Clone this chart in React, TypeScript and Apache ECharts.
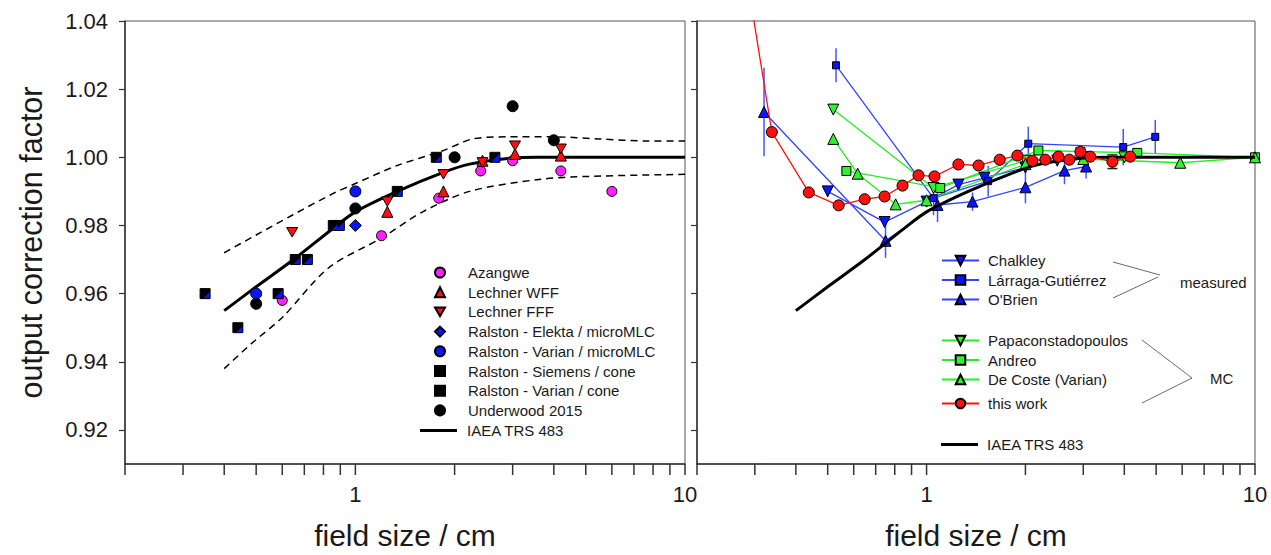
import React, { useEffect, useRef } from 'react';
import * as echarts from 'echarts';

// ---------- axes ----------
const yMin = 0.91;
const yMax = 1.04;
const yTicks = [0.92, 0.94, 0.96, 0.98, 1.0, 1.02, 1.04];
const xMin = 0.2;
const xMax = 10;
const xTicks = [0.2, 0.3, 0.4, 0.5, 0.6, 0.7, 0.8, 0.9, 1, 2, 3, 4, 5, 6, 7, 8, 9, 10];
const xLabels = [1, 10];

// ---------- left panel ----------
const azangwe = [[0.6, 0.958], [1.2, 0.977], [1.79, 0.988], [2.4, 0.996], [3.0, 0.999], [4.2, 0.996], [6.0, 0.990]];
const lechnerWFF = [[1.25, 0.984], [1.85, 0.990], [2.43, 0.999], [3.05, 1.001], [4.2, 1.0005]];
const lechnerFFF = [[0.643, 0.978], [1.25, 0.987], [1.85, 0.995], [2.43, 0.9985], [3.05, 1.0034], [4.2, 1.0025]];
const ralstonElekta = [[1.0, 0.980]];
const ralstonVarianMLC = [[0.5, 0.960], [1.0, 0.990]];
const ralstonSiemensCone = [[0.35, 0.960], [0.44, 0.950], [0.657, 0.970], [0.857, 0.980], [1.34, 0.990], [1.76, 1.000]];
const ralstonVarianCone = [[0.583, 0.960], [0.715, 0.970], [0.894, 0.980], [2.65, 1.000]];
const underwood = [[0.5, 0.957], [1.0, 0.985], [2.0, 1.000], [3.0, 1.015], [4.0, 1.005]];
const iaea = [[0.4, 0.955], [0.5, 0.962], [0.643, 0.9697], [0.857, 0.9792], [1.0, 0.984], [1.34, 0.990], [1.84, 0.9955], [2.22, 0.998], [3.0, 0.9998], [3.55, 1.0], [10, 1.0]];
const upperBound = [[0.4, 0.972], [0.5, 0.9772], [0.643, 0.983], [0.857, 0.9894], [1.0, 0.9923], [1.34, 0.9976], [1.84, 1.0019], [2.27, 1.0054], [2.88, 1.006], [4.0, 1.006], [5.5, 1.0054], [7.66, 1.0048], [10, 1.0048]];
const lowerBound = [[0.4, 0.938], [0.49, 0.9458], [0.6, 0.953], [0.83, 0.9676], [1.2, 0.9763], [1.6, 0.984], [2.22, 0.990], [3.6, 0.9935], [5.1, 0.9944], [10, 0.995]];

// ---------- right panel ----------
const chalkley = [[0.5, 0.990], [0.745, 0.981], [1.0, 0.987], [1.25, 0.992], [1.5, 0.994], [2.0, 0.997], [2.5, 0.999], [3.0, 1.000]];
const larraga = [[0.53, 1.027], [1.05, 0.988], [1.54, 0.993], [2.04, 1.004], [3.97, 1.003], [4.97, 1.006]];
const larragaErr = [0.005, 0.005, 0.0045, 0.005, 0.0053, 0.005];
const obrien = [[0.32, 1.0133], [0.75, 0.9755], [1.08, 0.986], [1.38, 0.987], [2.0, 0.9912], [2.63, 0.9961], [3.06, 0.9973]];
const obrienErr = [0.013, 0.005, 0.005, 0.0027, 0.0047, 0.004, 0.0035];
const papa = [[0.52, 1.014], [1.05, 0.991], [2.0, 0.999], [3.0, 1.0], [4.0, 1.0]];
const andreo = [[0.57, 0.996], [1.1, 0.991], [2.19, 1.002], [4.38, 1.0013], [10, 1.0]];
const decoste = [[0.52, 1.0054], [0.617, 0.9952], [0.805, 0.9862], [1.0, 0.9874], [2.0, 0.998], [3.0, 0.9995], [5.92, 0.9984], [10, 1.0]];
const thisWork = [[0.288, 1.049], [0.338, 1.0074], [0.438, 0.9897], [0.54, 0.9859], [0.648, 0.9877], [0.745, 0.9885], [0.845, 0.9917], [0.945, 0.9947], [1.057, 0.9944], [1.25, 0.9979], [1.44, 0.9976], [1.67, 0.9993], [1.89, 1.0005], [2.1, 0.999], [2.3, 0.9993], [2.52, 1.0002], [2.72, 0.9993], [2.94, 1.0016], [3.15, 1.0002], [3.68, 0.9987], [4.17, 1.0002]];
const thisWorkErr = [0, 0, 0, 0, 0, 0, 0, 0, 0, 0, 0, 0, 0, 0, 0, 0, 0, 0.0012, 0, 0.002, 0];

const FONT = '"Liberation Sans", Arial, sans-serif';
const BLUE = '#0a14ff';
const BLUE_LINE = '#3344ff';
const GREEN = '#33ee33';
const GREEN_LINE = '#22ee22';
const RED = '#ff1010';
const DOWN_TRI = 'path://M0,0 L20,0 L10,17.3 Z';
const HALF_TRI = 'path://M10,0 L10,10 L0,10 Z';
const BAR_ICON = 'path://M0,0 L120,0 L120,10 L0,10 Z';

const errData = (pts: number[][], errs: number[]) =>
  pts.map((p, i) => [p[0], p[1] - errs[i], p[1] + errs[i]]).filter((_, i) => errs[i] > 0);

function App() {
  const ref = useRef<HTMLDivElement>(null);
  useEffect(() => {
    if (!ref.current) return;
    const chart = echarts.init(ref.current, null, { renderer: 'svg' });

    const mk = (color: string, border = '#000', bw = 1) => ({ color, borderColor: border, borderWidth: bw, opacity: 1 });

    const xAxisBase = (gridIndex: number) => ({
      type: 'log',
      gridIndex,
      min: xMin,
      max: xMax,
      logBase: 10,
      name: 'field size / cm',
      nameLocation: 'middle',
      nameGap: 56,
      nameTextStyle: { fontSize: 30, color: '#1a1a1a', fontFamily: FONT },
      axisLine: { show: true, lineStyle: { color: '#333', width: 1.5 } },
      axisTick: { show: false },
      splitLine: { show: false },
      minorTick: { show: false },
      axisLabel: {
        fontSize: 22,
        color: '#1a1a1a',
        fontFamily: FONT,
        margin: 19,
        showMinLabel: true,
        showMaxLabel: true,
        customValues: xLabels,
        formatter: (v: number) => {
          const r = Math.round(v);
          return Math.abs(v - r) < 1e-6 && xLabels.indexOf(r) >= 0 ? String(r) : '';
        },
      },
    });

    const yAxisBase = (gridIndex: number, labels: boolean) => ({
      type: 'value',
      gridIndex,
      min: yMin,
      max: yMax,
      name: labels ? 'output correction factor' : '',
      nameLocation: 'middle',
      nameGap: 79,
      nameTextStyle: { fontSize: 30.5, color: '#1a1a1a', fontFamily: FONT },
      axisLine: { show: true, lineStyle: { color: '#333', width: 1.5 } },
      axisTick: { show: true, inside: false, length: 6, customValues: yTicks, lineStyle: { color: '#333', width: 1.2 } },
      splitLine: { show: false },
      axisLabel: {
        show: labels,
        customValues: yTicks,
        fontSize: 22,
        color: '#1a1a1a',
        fontFamily: FONT,
        margin: 17,
        formatter: (v: number) => v.toFixed(2),
      },
    });

    const tickSeries = (idx: number) => ({
      type: 'custom',
      name: '_ticks' + idx,
      xAxisIndex: idx,
      yAxisIndex: idx,
      silent: true,
      clip: false,
      z: 1,
      data: xTicks.map((v) => [v, yMin]),
      renderItem: (_p: any, api: any) => {
        const p = api.coord([api.value(0), api.value(1)]);
        return {
          type: 'line',
          shape: { x1: p[0], y1: p[1], x2: p[0], y2: p[1] + 11 },
          style: { stroke: '#333', lineWidth: 1.5 },
        };
      },
    });

    const errSeries = (name: string, data: number[][], color: string, caps: boolean, z = 2) => ({
      type: 'custom',
      name,
      xAxisIndex: 1,
      yAxisIndex: 1,
      silent: true,
      z,
      encode: { x: 0, y: [1, 2] },
      data,
      renderItem: (_p: any, api: any) => {
        const x = api.value(0);
        const lo = api.coord([x, api.value(1)]);
        const hi = api.coord([x, api.value(2)]);
        const children: any[] = [
          { type: 'line', shape: { x1: lo[0], y1: lo[1], x2: hi[0], y2: hi[1] }, style: { stroke: color, lineWidth: 1.5 } },
        ];
        if (caps) {
          children.push({ type: 'line', shape: { x1: lo[0] - 5, y1: lo[1], x2: lo[0] + 5, y2: lo[1] }, style: { stroke: '#222', lineWidth: 1.5 } });
          children.push({ type: 'line', shape: { x1: hi[0] - 5, y1: hi[1], x2: hi[0] + 5, y2: hi[1] }, style: { stroke: '#222', lineWidth: 1.5 } });
        }
        return { type: 'group', children };
      },
    });

    const scatter = (name: string, data: number[][], symbol: string, size: number, style: any, z = 5, extra: any = {}) => ({
      type: 'scatter',
      name,
      xAxisIndex: 0,
      yAxisIndex: 0,
      data,
      symbol,
      symbolSize: size,
      symbolKeepAspect: true,
      itemStyle: { opacity: 1, ...style },
      z,
      ...extra,
    });

    const curve = (name: string, data: number[][], idx: number, width: number, type: any, z = 3) => ({
      type: 'line',
      name,
      xAxisIndex: idx,
      yAxisIndex: idx,
      data,
      smooth: 0.3,
      showSymbol: false,
      symbol: 'none',
      lineStyle: { color: '#000', width, type },
      itemStyle: { color: '#000' },
      z,
    });

    const lineSeries = (name: string, data: number[][], symbol: string, size: number, lineColor: string, fill: string, z = 4) => ({
      type: 'line',
      name,
      xAxisIndex: 1,
      yAxisIndex: 1,
      data,
      symbol,
      symbolSize: size,
      showSymbol: true,
      clip: true,
      lineStyle: { color: lineColor, width: 1.3 },
      itemStyle: { color: fill, borderColor: '#000', borderWidth: 1, opacity: 1 },
      z,
    });

    const legendText = (pad: number) => ({ fontSize: 15, color: '#1a1a1a', fontFamily: FONT, padding: [0, 0, 0, pad], lineHeight: 15 });
    const iaeaItem = { name: 'IAEA TRS 483', icon: BAR_ICON };

    const option: any = {
      animation: false,
      backgroundColor: '#fff',
      grid: [
        { left: 125, top: 21, width: 560, height: 447, show: true, borderColor: '#555', borderWidth: 1, backgroundColor: 'transparent' },
        { left: 697, top: 21, width: 558, height: 447, show: true, borderColor: '#555', borderWidth: 1, backgroundColor: 'transparent' },
      ],
      xAxis: [xAxisBase(0), xAxisBase(1)],
      yAxis: [yAxisBase(0, true), yAxisBase(1, false)],
      legend: [
        {
          orient: 'vertical', left: 434, top: 265, padding: 0, itemWidth: 10, itemHeight: 10, itemGap: 4.7,
          selectedMode: false, symbolKeepAspect: true, textStyle: legendText(18),
          data: ['Azangwe', 'Lechner WFF', 'Lechner FFF', 'Ralston - Elekta / microMLC', 'Ralston - Varian / microMLC', 'Ralston - Siemens / cone', 'Ralston - Varian / cone', 'Underwood 2015'],
        },
        {
          orient: 'vertical', left: 420, top: 423, padding: 0, itemWidth: 37, itemHeight: 12, itemGap: 4.7,
          selectedMode: false, symbolKeepAspect: true, textStyle: legendText(5),
          data: [iaeaItem],
        },
        {
          orient: 'vertical', left: 941, top: 253, padding: 0, itemWidth: 37, itemHeight: 12, itemGap: 4.5,
          selectedMode: false, textStyle: legendText(4),
          data: ['Chalkley', 'Lárraga-Gutiérrez', "O'Brien"],
        },
        {
          orient: 'vertical', left: 941, top: 333, padding: 0, itemWidth: 37, itemHeight: 12, itemGap: 4.5,
          selectedMode: false, textStyle: legendText(4),
          data: ['Papaconstadopoulos', 'Andreo', 'De Coste (Varian)'],
        },
        {
          orient: 'vertical', left: 941, top: 396, padding: 0, itemWidth: 37, itemHeight: 12, itemGap: 4.5,
          selectedMode: false, textStyle: legendText(4),
          data: ['this work'],
        },
        {
          orient: 'vertical', left: 941, top: 437, padding: 0, itemWidth: 37, itemHeight: 12, itemGap: 4.5,
          selectedMode: false, symbolKeepAspect: true, textStyle: legendText(4),
          data: [iaeaItem],
        },
      ],
      graphic: [
        { type: 'line', shape: { x1: 1113, y1: 262, x2: 1160, y2: 275 }, style: { stroke: '#444', lineWidth: 0.8 } },
        { type: 'line', shape: { x1: 1113, y1: 298, x2: 1158, y2: 277 }, style: { stroke: '#444', lineWidth: 0.8 } },
        { type: 'text', x: 1180, y: 282, style: { text: 'measured', fontSize: 15, fill: '#1a1a1a', fontFamily: FONT, textVerticalAlign: 'middle' } },
        { type: 'line', shape: { x1: 1142, y1: 340, x2: 1192, y2: 378 }, style: { stroke: '#444', lineWidth: 0.8 } },
        { type: 'line', shape: { x1: 1142, y1: 403, x2: 1192, y2: 378 }, style: { stroke: '#444', lineWidth: 0.8 } },
        { type: 'text', x: 1210, y: 378, style: { text: 'MC', fontSize: 15, fill: '#1a1a1a', fontFamily: FONT, textVerticalAlign: 'middle' } },
      ],
      series: [
        tickSeries(0),
        tickSeries(1),
        // left panel
        curve('upper', upperBound, 0, 1.5, [7, 5]),
        curve('lower', lowerBound, 0, 1.5, [7, 5]),
        curve('IAEA TRS 483', iaea, 0, 3, 'solid'),
        scatter('Azangwe', azangwe, 'circle', 10, mk('#ff22ff')),
        scatter('Lechner WFF', lechnerWFF, 'triangle', 11, mk(RED)),
        scatter('Lechner FFF', lechnerFFF, DOWN_TRI, 11, mk(RED)),
        scatter('Ralston - Elekta / microMLC', ralstonElekta, 'diamond', 12, mk(BLUE)),
        scatter('Ralston - Varian / microMLC', ralstonVarianMLC, 'circle', 11, mk(BLUE)),
        scatter('Ralston - Siemens / cone', ralstonSiemensCone, 'rect', 10, mk('#000', '#000', 1)),
        scatter('_siemensOverlay', ralstonSiemensCone, HALF_TRI, 6, { color: BLUE }, 6, { symbolOffset: [1.5, 1.5], silent: true }),
        scatter('Ralston - Varian / cone', ralstonVarianCone, 'rect', 10, mk('#000', '#000', 1)),
        scatter('_varianOverlay', ralstonVarianCone, HALF_TRI, 8, { color: BLUE }, 6, { symbolOffset: [0.5, 0.5], silent: true }),
        scatter('Underwood 2015', underwood, 'circle', 11, mk('#000')),
        // right panel
        errSeries('_larragaErr', errData(larraga, larragaErr), '#4455ff', false),
        errSeries('_obrienErr', errData(obrien, obrienErr), '#4455ff', false),
        lineSeries('Chalkley', chalkley, DOWN_TRI, 11, BLUE_LINE, BLUE),
        lineSeries('Lárraga-Gutiérrez', larraga, 'rect', 7, BLUE_LINE, BLUE),
        lineSeries("O'Brien", obrien, 'triangle', 11, BLUE_LINE, BLUE),
        lineSeries('Papaconstadopoulos', papa, DOWN_TRI, 11, GREEN_LINE, GREEN),
        lineSeries('Andreo', andreo, 'rect', 9, GREEN_LINE, GREEN),
        lineSeries('De Coste (Varian)', decoste, 'triangle', 11, GREEN_LINE, GREEN),
        curve('IAEA TRS 483', iaea, 1, 3, 'solid', 5),
        errSeries('_thisWorkErr', errData(thisWork, thisWorkErr), RED, true, 6),
        lineSeries('this work', thisWork, 'circle', 11, RED, RED, 7),
      ],
    };
    chart.setOption(option);
    return () => chart.dispose();
  }, []);

  return (
    <div
      ref={ref}
      style={{ position: 'fixed', left: 0, top: 0, width: 1271, height: 555, background: '#fff' }}
    />
  );
}

export default App;
